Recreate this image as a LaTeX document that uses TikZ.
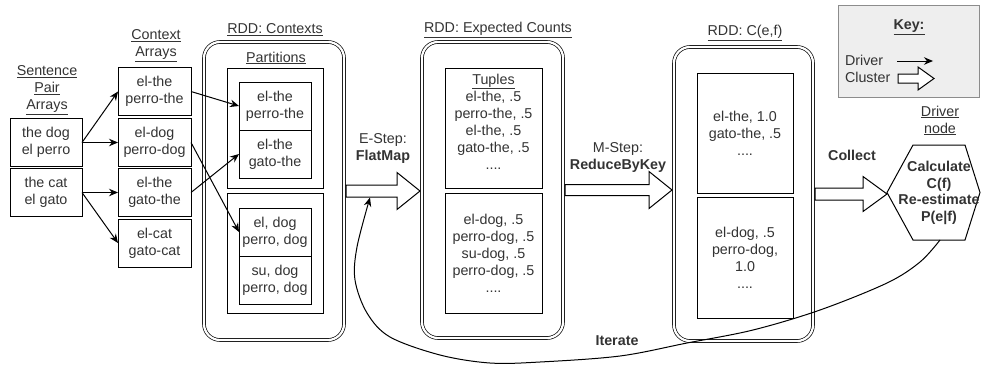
\documentclass[tikz,border=0pt]{standalone}
\usepackage{fontspec}
\setmainfont{Liberation Sans}
\usetikzlibrary{arrows.meta,calc}

\definecolor{ink}{HTML}{333333}
\definecolor{keyfill}{HTML}{EEEEEE}
\definecolor{keyline}{HTML}{8C8C8C}

\newcommand\undl[1]{\underline{#1}}

\tikzset{
  base/.style={font=\fontsize{14.3}{17}\selectfont, text=ink, align=center,
               inner sep=0pt, outer sep=0pt},
  cell/.style={base, draw=black, line width=1pt, minimum width=72pt, minimum height=48pt},
  part/.style={base, draw=black, line width=1pt, minimum width=96pt, minimum height=120pt},
  rdd/.style={draw=black, double=white, double distance=2.2pt, line width=0.7pt,
              rounded corners=16pt, inner sep=0pt, outer sep=2pt},
  drv/.style={line width=1pt, -{Stealth[length=9pt,width=7.5pt]}},
  clusterline/.style={draw=black, fill=white, line width=1pt, line join=miter},
  keybox/.style={draw=keyline, fill=keyfill, line width=1pt, minimum width=141pt,
                 minimum height=92pt, inner sep=0pt, outer sep=0pt},
}

% wide hollow arrow: start, tip, half shaft, half head, head length
\newcommand\blockarr[5]{%
  \draw[clusterline] let \p1=(#1), \p2=(#2) in
    (\x1,\y1+#3) -- (\x2-#5,\y1+#3) -- (\x2-#5,\y1+#4) -- (\x2,\y1)
    -- (\x2-#5,\y1-#4) -- (\x2-#5,\y1-#3) -- (\x1,\y1-#3) -- cycle;}

\begin{document}
\begin{tikzpicture}[x=1pt,y=-1pt]
\useasboundingbox (0,0) rectangle (981,364);

% sentence pair arrays
\node[base] (sentlbl) at (47,90) {\undl{Sentence}\\\undl{Pair}\\\undl{Arrays}};
\node[cell] (sp1) at (46,142.5) {the dog\\el perro};
\node[cell] (sp2) at (46,192.5) {the cat\\el gato};

% context arrays
\node[base] (ctxlbl) at (156,45.5) {\undl{Context}\\\undl{Arrays}};
\node[cell, minimum width=73pt] (ctx1) at (154.5,91.5) {el-the\\perro-the};
\node[cell, minimum width=73pt] (ctx2) at (154.5,142.5) {el-dog\\perro-dog};
\node[cell, minimum width=73pt] (ctx3) at (154.5,192.5) {el-the\\gato-the};
\node[cell, minimum width=73pt] (ctx4) at (154.5,243) {el-cat\\gato-cat};

\draw[drv] (sp1.east) -- (ctx1.west);
\draw[drv] (sp1.east) -- (ctx2.west);
\draw[drv] (sp2.east) -- (ctx3.west);
\draw[drv] (sp2.east) -- (ctx4.west);

% RDD: Contexts
\node[base] (rdd1lbl) at (275,30) {\undl{RDD: Contexts}};
\node[rdd, minimum width=140pt, minimum height=298pt] (rddctx) at (274,191) {};
\node[base] (partlbl) at (276,58) {\undl{Partitions}};
\node[part] (p1) at (275,128) {};
\node[part] (p2) at (275,253) {};
\node[cell] (pa) at (275,106) {el-the\\perro-the};
\node[cell] (pb) at (275,154) {el-the\\gato-the};
\node[cell] (pc) at (275,232) {el, dog\\perro, dog};
\node[cell] (pd) at (275,280) {su, dog\\perro, dog};

\draw[drv] (ctx1.east) -- (pa.west);
\draw[drv] (ctx2.east) -- (pc.west);
\draw[drv] (ctx3.east) -- (pb.west);

% E-step
\node[base] (esteplbl) at (383,148.5) {E-Step:\\\textbf{FlatMap}};

% RDD: Expected Counts
\node[base] (rdd2lbl) at (498,30) {\undl{RDD: Expected Counts}};
\node[rdd, minimum width=141pt, minimum height=296pt] (rddexp) at (492.5,190) {};
\node[part, minimum width=97pt] (t1) at (493.5,128) {};
\node[base] (t1txt) at (493.5,121.5) {\undl{Tuples}\\el-the, .5\\perro-the, .5\\el-the, .5\\gato-the, .5\\....};
\node[part, minimum width=97pt] (t2) at (493.5,253) {el-dog, .5\\perro-dog, .5\\su-dog, .5\\perro-dog, .5\\....};

% M-step
\node[base] (msteplbl) at (618,157) {M-Step:\\\textbf{ReduceByKey}};

% RDD: C(e,f)
\node[base] (rdd3lbl) at (745,33) {\undl{RDD: C(e,f)}};
\node[rdd, minimum width=139pt, minimum height=294pt] (rddcef) at (743.5,194) {};
\node[part] (c1) at (745,133) {el-the, 1.0\\gato-the, .5\\....};
\node[part, minimum height=121pt] (c2) at (745,257.5) {el-dog, .5\\perro-dog,\\1.0\\....};

% collect and driver node
\node[base, font=\fontsize{14.3}{17}\selectfont\bfseries] (collectlbl) at (852,155) {Collect};
\node[base] (drvlbl) at (940,120.5) {\undl{Driver}\\\undl{node}};
\draw[line width=1pt, line join=miter] (913,145) -- (965,145) -- (980,192.5) -- (965,240)
  -- (913,240) -- (887,192.5) -- cycle;
\node[base, font=\fontsize{14.3}{16.7}\selectfont\bfseries] (hex) at (939,193)
  {Calculate\\C(f)\\Re-estimate\\P(e|f)};
\coordinate (hexleft) at (887,192.5);
\coordinate (hexbot) at (940,240);

% cluster transfers
\blockarr{rddctx.east}{rddexp.west}{6pt}{18.5pt}{23pt}
\blockarr{rddexp.east}{rddcef.west}{5.5pt}{18.5pt}{23pt}
\blockarr{rddcef.east}{hexleft}{6pt}{17.5pt}{24pt}

% iteration loop back to the E-step
\coordinate (loopend) at (370,197.5);
\node[base, font=\fontsize{14.3}{17}\selectfont\bfseries] (iterlbl) at (617,341) {Iterate};
\draw[drv] plot[smooth, tension=0.55] coordinates {(hexbot) (920,262) (887,283) (820,310)
  (753,330) (687,343) (620,356) (540,362) (490,363) (440,355) (390,337) (367,313)
  (355,280) (357,247) (loopend)};

% key
\node[keybox] (key) at (908.5,51) {};
\node[base, font=\fontsize{14.3}{17}\selectfont\bfseries] (keylbl) at (909,27) {\undl{Key:}};
\node[base, anchor=west] (kdrv) at (845,60) {Driver};
\node[base, anchor=west] (kcl) at (845,77) {Cluster};
\coordinate (kd1) at (897,61);
\coordinate (kd2) at (933,61);
\draw[drv] (kd1) -- (kd2);
\coordinate (kc1) at (898,78.5);
\coordinate (kc2) at (934,78.5);
\blockarr{kc1}{kc2}{4.5pt}{11.5pt}{16pt}
\end{tikzpicture}
\end{document}
